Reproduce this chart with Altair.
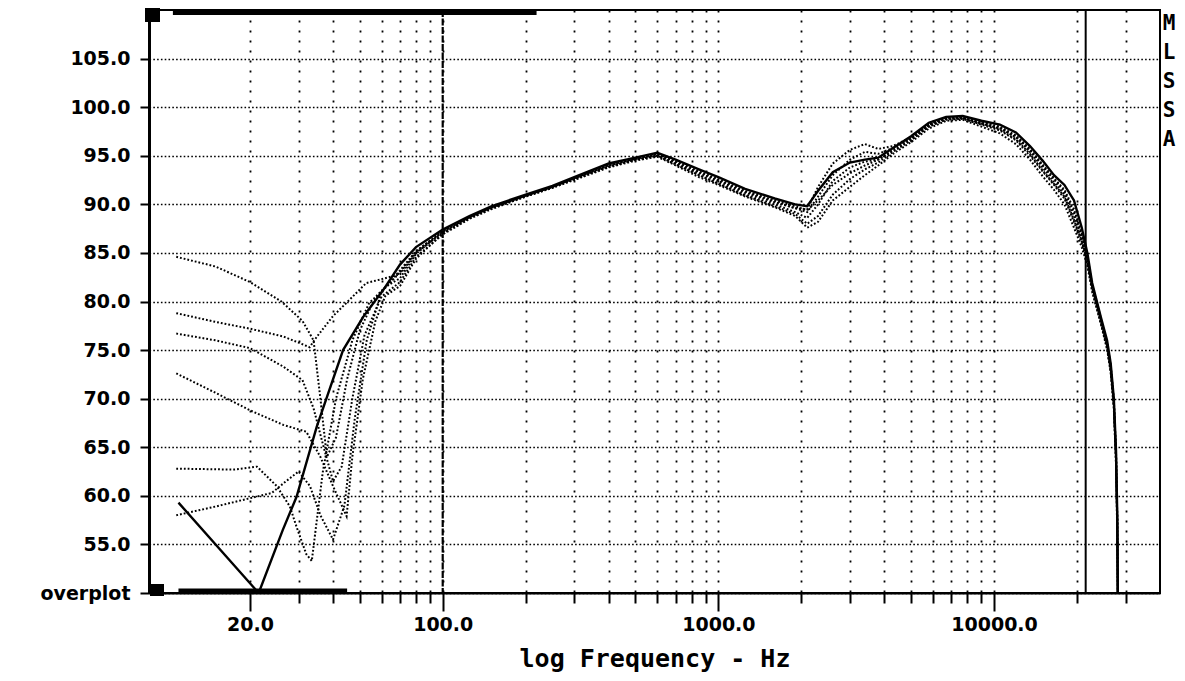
import altair as alt
import pandas as pd

# ---------------- data ----------------
# solid (reference) curve
MAIN_LOW_F = [11.0, 21.5, 26.3, 29.5, 34.9, 43.5, 51.4, 60.9]
MAIN_LOW_DB = [59.3, 50.0, 56.5, 59.9, 67.1, 75.0, 78.4, 81.2]

# common frequency grid above 70 Hz
F_HI = [70, 80, 100, 125, 150, 200, 250, 300, 400, 500, 600, 700, 850, 1000,
        1250, 1600, 1900, 2100, 2300, 2600, 3000, 3400, 3800, 4300, 5000, 5800,
        6700, 7700, 9000, 10500, 12000, 13500, 15000, 16500, 18000, 19500,
        20800, 21800, 22700, 24400, 25700, 26500, 27200, 27700, 28000, 28130]

MAIN_HI = [83.8, 85.6, 87.4, 88.8, 89.8, 91.0, 91.9, 92.8, 94.2, 94.8, 95.3, 94.6,
           93.6, 92.8, 91.6, 90.6, 90.0, 89.8, 91.4, 93.3, 94.3, 94.6, 94.8, 95.8,
           97.0, 98.4, 99.0, 99.1, 98.6, 98.2, 97.4, 96.0, 94.5, 93.0, 92.0, 90.4,
           87.6, 85.0, 81.9, 78.4, 76.0, 73.6, 70.0, 64.7, 57.9, 49.0]

# dotted (overplotted) curves: low-frequency part + values on F_HI
D1_LOW_F = [10.8, 15, 20, 26, 31, 34, 36, 38, 41, 45, 50, 56, 62]
D1_LOW_DB = [84.6, 83.6, 82.0, 80.0, 78.0, 76.0, 70.0, 64.0, 66.0, 72.0, 77.0, 80.0, 81.5]
D1_HI = [83.2, 85.2, 87.2, 88.7, 89.7, 90.9, 91.8, 92.7, 94.0, 94.7, 95.2, 94.3,
         93.2, 92.4, 91.2, 90.2, 89.6, 89.5, 91.8, 94.2, 95.6, 96.2, 95.7, 96.0,
         96.9, 98.2, 98.9, 98.9, 98.3, 97.8, 96.9, 95.4, 93.8, 92.3, 91.0, 88.8,
         86.5, 84.2, 81.4, 78.0, 75.4, 73.0, 69.5, 64.0, 57.0, 49.0]

D2_LOW_F = [10.8, 15, 20, 26.4, 32.9, 35, 40, 46, 52.8, 60]
D2_LOW_DB = [78.8, 77.9, 77.2, 76.4, 75.3, 76.4, 78.5, 80.2, 81.9, 82.3]
D2_HI = [82.8, 85.0, 87.1, 88.6, 89.6, 90.8, 91.7, 92.6, 93.9, 94.6, 95.0, 94.2,
         93.0, 92.2, 91.0, 90.0, 89.2, 88.6, 90.0, 92.4, 93.8, 94.4, 94.6, 95.5,
         96.6, 98.0, 98.7, 98.8, 98.2, 97.6, 96.6, 95.0, 93.4, 92.0, 90.6, 88.2,
         86.0, 84.0, 81.2, 77.8, 75.2, 72.8, 69.2, 63.5, 56.5, 49.0]

D3_LOW_F = [10.8, 15, 20, 26.4, 31, 34, 37, 40, 43, 47, 52, 60]
D3_LOW_DB = [76.7, 76.0, 75.2, 73.3, 71.9, 69.0, 65.0, 61.5, 63.0, 70.0, 76.5, 80.5]
D3_HI = [82.0, 84.6, 86.9, 88.5, 89.5, 90.8, 91.7, 92.5, 93.8, 94.5, 94.9, 94.0,
         92.8, 92.0, 90.8, 89.7, 88.8, 87.6, 88.2, 90.4, 91.8, 93.0, 94.0, 95.2,
         96.4, 97.8, 98.6, 98.7, 98.0, 97.3, 96.2, 94.6, 92.9, 91.5, 90.0, 87.6,
         85.6, 83.7, 81.0, 77.7, 75.1, 72.7, 69.0, 63.2, 56.0, 49.0]

D4_LOW_F = [10.8, 15, 20, 26.4, 32, 36, 40, 44.8, 47, 51.3, 57, 62]
D4_LOW_DB = [72.6, 70.6, 68.8, 67.3, 66.6, 64.0, 61.0, 57.9, 64.0, 72.0, 78.0, 80.6]
D4_HI = [81.6, 84.4, 87.0, 88.6, 89.6, 90.9, 91.8, 92.6, 93.9, 94.6, 95.0, 94.1,
         93.0, 92.1, 90.9, 89.8, 89.0, 88.0, 88.8, 91.0, 92.6, 93.6, 94.3, 95.4,
         96.6, 98.0, 98.8, 98.9, 98.3, 97.7, 96.7, 95.2, 93.5, 92.1, 90.8, 88.4,
         86.2, 84.3, 81.5, 78.1, 75.6, 73.1, 69.6, 64.2, 57.2, 49.0]

D5_LOW_F = [10.8, 17.4, 21.2, 25, 27.9, 29.5, 32, 33.5, 36.7, 41, 47, 54, 62]
D5_LOW_DB = [62.8, 62.7, 63.0, 61.0, 58.9, 56.8, 54.0, 53.3, 62.4, 70.0, 76.0, 79.8, 81.5]
D5_HI = [82.4, 84.9, 87.2, 88.7, 89.7, 90.9, 91.8, 92.7, 94.0, 94.7, 95.1, 94.4,
         93.3, 92.5, 91.3, 90.3, 89.6, 89.2, 90.8, 93.0, 94.6, 95.4, 95.2, 95.8,
         96.8, 98.1, 98.8, 98.9, 98.4, 97.9, 97.0, 95.6, 94.0, 92.6, 91.3, 89.2,
         86.8, 84.5, 81.6, 78.2, 75.7, 73.3, 69.8, 64.4, 57.4, 49.0]

D6_LOW_F = [10.8, 15, 21, 24, 27, 30, 33, 36, 40, 44, 48, 53, 60]
D6_LOW_DB = [58.0, 58.9, 59.9, 60.3, 61.5, 62.5, 61.0, 58.0, 55.5, 59.0, 68.0, 76.0, 81.0]
D6_HI = [83.0, 85.1, 87.3, 88.7, 89.7, 90.9, 91.8, 92.7, 94.1, 94.7, 95.2, 94.5,
         93.4, 92.6, 91.4, 90.4, 89.8, 89.4, 90.4, 92.0, 93.2, 94.0, 94.6, 95.6,
         96.8, 98.2, 98.9, 99.0, 98.5, 98.0, 97.1, 95.7, 94.1, 92.7, 91.5, 89.5,
         87.0, 84.7, 81.7, 78.3, 75.8, 73.4, 69.9, 64.5, 57.5, 49.0]

# axis text
X_TICKS = [20, 30, 40, 50, 60, 70, 80, 90, 100, 200, 300, 400, 500, 600, 700, 800,
           900, 1000, 2000, 3000, 4000, 5000, 6000, 7000, 8000, 9000, 10000,
           20000, 30000]
X_LABELED = [20, 100, 1000, 10000]
Y_TICKS = [50, 55, 60, 65, 70, 75, 80, 85, 90, 95, 100, 105]
X_TITLE = "log Frequency - Hz"
BOTTOM_LABEL = "overplot"
SIDE_LETTERS = ["M", "L", "S", "S", "A"]

# cursors and cursor-range bars (frequencies in Hz)
CURSOR_A = [100]
CURSOR_B = [21500]
TOP_BAR = [10.5, 219]
BOTTOM_BAR = [11.0, 45.0]

# ---------------- build tables ----------------
rows = []


def add(name, freqs, dbs):
    for i, (f, d) in enumerate(zip(freqs, dbs)):
        rows.append({"curve": name, "freq": f, "db": d, "idx": i})


add("main", MAIN_LOW_F + F_HI, MAIN_LOW_DB + MAIN_HI)
add("d1", D1_LOW_F + F_HI, D1_LOW_DB + D1_HI)
add("d2", D2_LOW_F + F_HI, D2_LOW_DB + D2_HI)
add("d3", D3_LOW_F + F_HI, D3_LOW_DB + D3_HI)
add("d4", D4_LOW_F + F_HI, D4_LOW_DB + D4_HI)
add("d5", D5_LOW_F + F_HI, D5_LOW_DB + D5_HI)
add("d6", D6_LOW_F + F_HI, D6_LOW_DB + D6_HI)
df = pd.DataFrame(rows)
main_df = df[df.curve == "main"]
dot_df = df[df.curve != "main"]

FONT = "DejaVu Sans"

x_enc = alt.X(
    "freq:Q",
    scale=alt.Scale(type="log", domain=[8.6, 40000], nice=False),
    axis=alt.Axis(
        values=X_TICKS,
        labelExpr="indexof(%s, datum.value) >= 0 ? format(datum.value, '.1f') : ''"
        % str(X_LABELED),
        grid=True,
        gridDash=[2, 8],
        gridColor="black",
        gridWidth=1.8,
        gridOpacity=1,
        tickSize={"condition": {"test": "indexof(%s, datum.value) >= 0" % str(X_LABELED),
                                "value": 18}, "value": 10},
        tickWidth=2,
        tickColor="black",
        domainColor="black",
        domainWidth=2,
        labelPadding=4,
        labelFontSize=19,
        labelFont=FONT,
        labelFontWeight="bold",
        labelColor="black",
        labelOverlap=False,
        title=X_TITLE,
        titleFont="DejaVu Sans Mono",
        titleFontSize=25,
        titleFontWeight="bold",
        titleColor="black",
        titlePadding=12,
    ),
)

y_enc = alt.Y(
    "db:Q",
    scale=alt.Scale(domain=[50, 110], nice=False, zero=False),
    axis=alt.Axis(
        values=Y_TICKS,
        labelExpr="datum.value == 50 ? '%s' : format(datum.value, '.1f')" % BOTTOM_LABEL,
        grid=True,
        gridDash=[1.6, 2.2],
        gridColor="black",
        gridWidth=1.4,
        gridOpacity=1,
        tickSize=9,
        tickWidth=2,
        tickColor="black",
        domainColor="black",
        domainWidth=3,
        labelPadding=10,
        labelFontSize=19,
        labelFont=FONT,
        labelFontWeight="bold",
        labelColor="black",
        labelOverlap=False,
        title=None,
    ),
)

dots = alt.Chart(dot_df).mark_line(
    clip=True, color="black", strokeWidth=2, strokeDash=[1.8, 2]
).encode(x=x_enc, y=y_enc, detail="curve:N", order="idx:Q")

solid = alt.Chart(main_df).mark_line(
    clip=True, color="black", strokeWidth=2.4
).encode(x=x_enc, y=y_enc, order="idx:Q")

cur_a = alt.Chart(pd.DataFrame({"freq": CURSOR_A})).mark_rule(
    color="black", strokeWidth=2.2, strokeDash=[7, 1.5]
).encode(x=x_enc)
cur_b = alt.Chart(pd.DataFrame({"freq": CURSOR_B})).mark_rule(
    color="black", strokeWidth=2
).encode(x=x_enc)

top_bar = alt.Chart(pd.DataFrame({"freq": [TOP_BAR[0]], "freq2": [TOP_BAR[1]]})).mark_rule(
    color="black", strokeWidth=5, clip=False
).encode(x=x_enc, x2="freq2:Q", y=alt.value(2.5))
bot_bar = alt.Chart(pd.DataFrame({"freq": [BOTTOM_BAR[0]], "freq2": [BOTTOM_BAR[1]]})).mark_rule(
    color="black", strokeWidth=5, clip=False
).encode(x=x_enc, x2="freq2:Q", y=alt.value(581))

sq_top = alt.Chart(pd.DataFrame({"freq": [0]})).mark_rect(color="black").encode(
    x=alt.value(-4), x2=alt.value(11), y=alt.value(-2), y2=alt.value(12)
)
sq_bot = alt.Chart(pd.DataFrame({"freq": [0]})).mark_rect(color="black").encode(
    x=alt.value(1), x2=alt.value(15), y=alt.value(574), y2=alt.value(586)
)

letters = []
for i, ch in enumerate(SIDE_LETTERS):
    letters.append(
        alt.Chart(pd.DataFrame({"t": [ch]})).mark_text(
            font="DejaVu Sans Mono", fontWeight="bold", fontSize=21, color="black",
            align="center", baseline="middle"
        ).encode(text="t:N", x=alt.value(1020), y=alt.value(14 + 29 * i))
    )

chart = alt.layer(
    dots, solid, cur_a, cur_b, top_bar, bot_bar, sq_top, sq_bot, *letters
).properties(
    width=1011,
    height=583,
    padding={"left": 141, "top": 2, "right": 17, "bottom": 79},
    autosize=alt.AutoSizeParams(type="none"),
    background="white",
).configure_view(
    stroke="black", strokeWidth=2
)

chart.save("out.html", embed_options={"renderer": "svg", "actions": False})
